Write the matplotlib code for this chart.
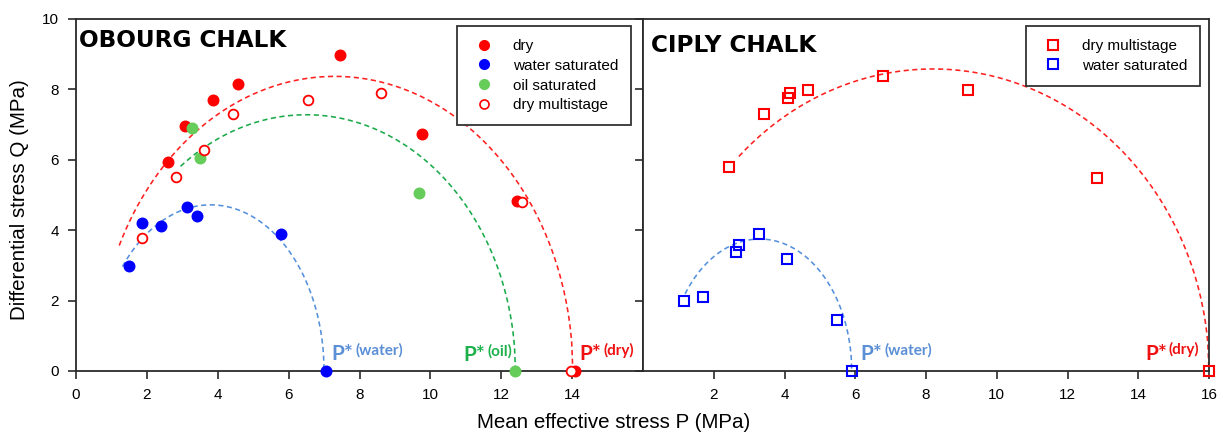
import numpy as np
import matplotlib
matplotlib.use("Agg")
import matplotlib.pyplot as plt
from matplotlib.lines import Line2D

plt.rcParams['font.family'] = ['Liberation Sans', 'DejaVu Sans']

# ---------------- data: OBOURG chalk ----------------
ob_dry_P = [2.60, 3.08, 3.87, 4.58, 7.44, 9.75, 12.44, 14.08]
ob_dry_Q = [5.93, 6.97, 7.69, 8.15, 8.99, 6.73, 4.84, 0.0]
ob_water_P = [1.49, 1.87, 2.39, 3.12, 3.42, 5.78, 7.06]
ob_water_Q = [2.98, 4.20, 4.12, 4.65, 4.40, 3.90, 0.0]
ob_oil_P = [3.27, 3.49, 9.68, 12.38]
ob_oil_Q = [6.90, 6.04, 5.07, 0.0]
ob_ms_P = [1.87, 2.83, 3.60, 4.43, 6.55, 8.61, 12.58, 13.98]
ob_ms_Q = [3.79, 5.50, 6.29, 7.29, 7.69, 7.90, 4.80, 0.0]

# ---------------- data: CIPLY chalk ----------------
ci_ms_P = [2.44, 3.43, 4.10, 4.15, 4.67, 6.79, 9.18, 12.82, 16.0]
ci_ms_Q = [5.79, 7.29, 7.76, 7.90, 7.98, 8.39, 7.98, 5.49, 0.0]
ci_water_P = [1.17, 1.70, 2.63, 2.70, 3.29, 4.07, 5.49, 5.90]
ci_water_Q = [1.99, 2.09, 3.39, 3.59, 3.88, 3.19, 1.44, 0.0]

# ---------------- fitted elliptical caps: (centre P, half-width, height, start P) ----------------
cap_ob_dry = (7.30, 6.72, 8.37, 1.22)
cap_ob_oil = (6.50, 5.90, 7.28, 2.95)
cap_ob_water = (3.80, 3.20, 4.72, 1.31)
cap_ci_dry = (8.20, 7.80, 8.58, 2.71)
cap_ci_water = (3.30, 2.60, 3.75, 1.19)

x_ticks_left = [0, 2, 4, 6, 8, 10, 12, 14]
x_ticks_right = [2, 4, 6, 8, 10, 12, 14, 16]
y_ticks = [0, 2, 4, 6, 8, 10]

RED = '#ff0000'
BLUE = '#0000ff'
GREEN = '#66cc5a'
C_RED_LINE = '#ff2020'
C_GREEN_LINE = '#1aaa4a'
C_BLUE_LINE = '#5590dd'
C_PSTAR_W = '#5b8fd6'
C_PSTAR_O = '#1db04b'
C_PSTAR_D = '#f01010'
SPINE = '#2a2a2a'

W, H = 1223, 434
fig = plt.figure(figsize=(W / 100, H / 100), dpi=100)
bottom = 1 - 371 / H
height = 352 / H
ax1 = fig.add_axes([76 / W, bottom, (643 - 76) / W, height])
ax2 = fig.add_axes([643 / W, bottom, (1209 - 643) / W, height])


def draw_cap(ax, cap, color):
    c, a, b, p0 = cap
    P = np.linspace(p0, c + a, 400)
    Q = b * np.sqrt(np.clip(1 - ((P - c) / a) ** 2, 0, None))
    ax.plot(P, Q, color=color, lw=1.15, linestyle=(0, (3.2, 2.2)), zorder=2)


for ax in (ax1, ax2):
    ax.set_xlim(0, 16)
    ax.set_ylim(0, 10)
    for s in ax.spines.values():
        s.set_linewidth(1.3)
        s.set_color(SPINE)
    ax.tick_params(axis='both', direction='out', length=5.5, width=1.2,
                   color=SPINE, labelsize=11, pad=7)

# ---------------- left panel ----------------
draw_cap(ax1, cap_ob_dry, C_RED_LINE)
draw_cap(ax1, cap_ob_oil, C_GREEN_LINE)
draw_cap(ax1, cap_ob_water, C_BLUE_LINE)

ms = 7.6
ax1.plot(ob_dry_P, ob_dry_Q, 'o', color=RED, ms=ms, mec=RED, clip_on=False, zorder=4)
ax1.plot(ob_water_P, ob_water_Q, 'o', color=BLUE, ms=ms, mec=BLUE, clip_on=False, zorder=4)
ax1.plot(ob_oil_P, ob_oil_Q, 'o', color=GREEN, ms=ms, mec=GREEN, clip_on=False, zorder=4)
ax1.plot(ob_ms_P, ob_ms_Q, 'o', mfc='white', mec=RED, mew=1.3, ms=ms - 0.6,
         clip_on=False, zorder=5)

ax1.set_xticks(x_ticks_left)
ax1.set_yticks(y_ticks)

ax1.text(0.006, 0.92, 'OBOURG CHALK', transform=ax1.transAxes, fontsize=16.7,
         fontweight='bold', family='DejaVu Sans', va='baseline', ha='left')

leg_kw = dict(loc='upper right', borderaxespad=0, fontsize=11, frameon=True,
              fancybox=False, framealpha=1, borderpad=0.85, handlelength=1.8,
              handletextpad=1.0, labelspacing=0.38)
h1 = [Line2D([], [], ls='none', marker='o', color=RED, ms=7),
      Line2D([], [], ls='none', marker='o', color=BLUE, ms=7),
      Line2D([], [], ls='none', marker='o', color=GREEN, ms=7),
      Line2D([], [], ls='none', marker='o', mfc='white', mec=RED, mew=1.2, ms=6.5)]
leg1 = ax1.legend(h1, ['dry', 'water saturated', 'oil saturated', 'dry multistage'],
                  bbox_to_anchor=(0.979, 0.980), **leg_kw)
leg1.get_frame().set_edgecolor('#333333')
leg1.get_frame().set_linewidth(1.3)


def pstar(ax, x, y, sup, color, dx):
    ax.text(x, y, 'P*', color=color, fontsize=15, fontweight='bold',
            family=['Lato', 'DejaVu Sans'], ha='left', va='baseline', zorder=6)
    ax.text(x + dx, y + 0.16, sup, color=color, fontsize=11, fontweight='bold',
            family=['Lato', 'DejaVu Sans'], ha='left', va='baseline', zorder=6)


pstar(ax1, 7.22, 0.30, '(water)', C_PSTAR_W, 0.68)
pstar(ax1, 10.93, 0.28, '(oil)', C_PSTAR_O, 0.68)
pstar(ax1, 14.20, 0.30, '(dry)', C_PSTAR_D, 0.68)

# ---------------- right panel ----------------
draw_cap(ax2, cap_ci_dry, C_RED_LINE)
draw_cap(ax2, cap_ci_water, C_BLUE_LINE)

ax2.plot(ci_ms_P, ci_ms_Q, 's', mfc='none', mec=RED, mew=1.5, ms=7,
         clip_on=False, zorder=5)
ax2.plot(ci_water_P, ci_water_Q, 's', mfc='none', mec=BLUE, mew=1.5, ms=7,
         clip_on=False, zorder=5)

ax2.set_xticks(x_ticks_right)
ax2.set_yticks(y_ticks)
ax2.tick_params(axis='y', labelleft=False)

ax2.text(0.015, 0.907, 'CIPLY CHALK', transform=ax2.transAxes, fontsize=16.7,
         fontweight='bold', family='DejaVu Sans', va='baseline', ha='left')

h2 = [Line2D([], [], ls='none', marker='s', mfc='none', mec=RED, mew=1.5, ms=6.5),
      Line2D([], [], ls='none', marker='s', mfc='none', mec=BLUE, mew=1.5, ms=6.5)]
leg2 = ax2.legend(h2, ['dry multistage', 'water saturated'],
                  bbox_to_anchor=(0.984, 0.980), **leg_kw)
leg2.get_frame().set_edgecolor('#333333')
leg2.get_frame().set_linewidth(1.3)

pstar(ax2, 6.14, 0.30, '(water)', C_PSTAR_W, 0.68)
pstar(ax2, 14.20, 0.32, '(dry)', C_PSTAR_D, 0.66)

# ---------------- axis labels ----------------
fig.text(614 / W, 1 - 422 / H, 'Mean effective stress P (MPa)', fontsize=14.8,
         ha='center', va='center')
fig.text(20 / W, 1 - 200 / H, 'Differential stress Q (MPa)', fontsize=14.8,
         ha='center', va='center', rotation=90)

fig.savefig('out.png', dpi=100)
